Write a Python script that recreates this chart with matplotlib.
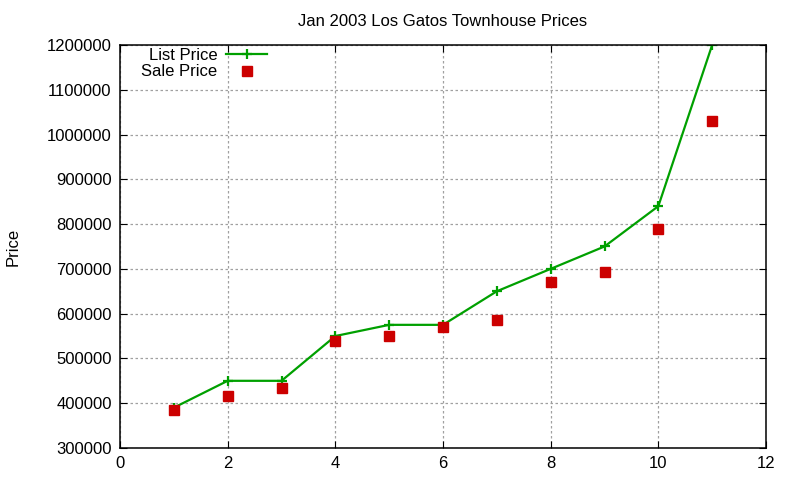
import matplotlib
matplotlib.use('Agg')
import matplotlib.pyplot as plt

plt.rcParams['font.family'] = ['Liberation Sans', 'DejaVu Sans']

# house numbers and prices
house = [1, 2, 3, 4, 5, 6, 7, 8, 9, 10, 11]
list_price = [390000, 450000, 450000, 550000, 575000, 575000, 650000, 700000, 750000, 840000, 1200000]
sale_price = [385000, 415000, 435000, 540000, 550000, 570000, 585000, 670000, 692000, 790000, 1030000]

x_ticks = [0, 2, 4, 6, 8, 10, 12]
y_ticks = [300000, 400000, 500000, 600000, 700000, 800000, 900000, 1000000, 1100000, 1200000]

fig = plt.figure(figsize=(8, 4.8), dpi=100)
ax = fig.add_axes([0.15, 0.0667, 0.8075, 0.8396])

ax.plot(house, list_price, color='#00a000', lw=1.6, marker='+', ms=7, mew=1.6, label='List Price')
ax.plot(house, sale_price, ls='none', color='#cc0000', marker='s', ms=6.5, label='Sale Price')

ax.set_xlim(0, 12)
ax.set_ylim(300000, 1200000)
ax.set_xticks(x_ticks)
ax.set_yticks(y_ticks)
ax.ticklabel_format(style='plain', useOffset=False)
ax.tick_params(direction='in', top=True, right=True, labelsize=12, length=5, pad=6)
ax.grid(True, color='#a0a0a0', ls=(0, (2, 2)), lw=0.9)
for s in ax.spines.values():
    s.set_linewidth(1.1)

ax.set_title('Jan 2003 Los Gatos Townhouse Prices', fontsize=12, pad=14)
ax.set_ylabel('Price', fontsize=12)
ax.yaxis.set_label_coords(-0.154, 0.5)

ax.legend(loc='upper left', frameon=False, markerfirst=False, fontsize=12,
          handlelength=2.5, borderaxespad=0.1, labelspacing=0.1,
          bbox_to_anchor=(0.02, 1.014), handletextpad=0.5)

fig.savefig('out.png', dpi=100)
